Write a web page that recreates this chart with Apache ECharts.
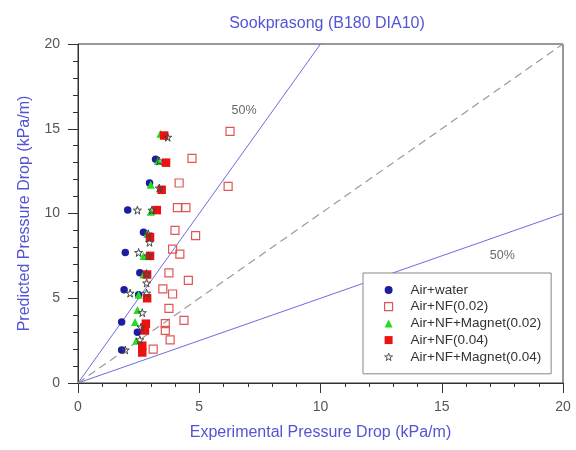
<!DOCTYPE html>
<html><head><meta charset="utf-8">
<script src="https://cdn.jsdelivr.net/npm/echarts@6/dist/echarts.min.js"></script>
<style>html,body{margin:0;padding:0;background:#fff}#c{width:576px;height:450px}</style>
</head><body><div id="c"></div>
<script>
const titleText = 'Sookprasong (B180 DIA10)';
const xName = 'Experimental Pressure Drop (kPa/m)';
const yName = 'Predicted Pressure Drop (kPa/m)';
const seriesNames = ['Air+water', 'Air+NF(0.02)', 'Air+NF+Magnet(0.02)', 'Air+NF(0.04)', 'Air+NF+Magnet(0.04)'];

const airWater = [[3.2,13.2],[2.95,11.8],[2.05,10.2],[2.7,8.9],[1.95,7.7],[2.55,6.5],[1.9,5.5],[2.5,5.2],[1.8,3.6],[2.45,3.0],[1.8,1.95]];
const airNF002 = [[6.27,14.85],[4.7,13.25],[6.19,11.6],[4.17,11.8],[4.1,10.35],[4.45,10.35],[4.0,9.0],[4.85,8.7],[3.9,7.9],[4.2,7.6],[3.75,6.5],[4.55,6.05],[3.5,5.55],[3.9,5.25],[3.75,4.4],[4.37,3.7],[3.6,3.5],[3.6,3.1],[3.8,2.55],[3.1,2.0]];
const airNFMag002 = [[3.4,14.7],[3.3,13.1],[3.0,11.7],[3.0,10.1],[2.85,8.8],[2.7,7.5],[2.7,6.4],[2.5,5.2],[2.45,4.3],[2.35,3.6],[2.4,2.5]];
const airNF004 = [[3.55,14.6],[3.63,13.0],[3.45,11.4],[3.25,10.2],[2.97,8.6],[2.97,7.5],[2.85,6.4],[2.85,5.0],[2.8,3.5],[2.76,3.1],[2.65,2.2],[2.65,1.8]];
const airNFMag004 = [[3.7,14.5],[3.35,13.1],[3.35,11.5],[2.45,10.2],[3.05,10.2],[2.9,8.8],[2.95,8.3],[2.5,7.7],[2.9,7.5],[2.83,6.45],[2.83,5.9],[2.15,5.3],[2.83,5.3],[2.65,4.15],[2.6,3.3],[2.55,2.55],[1.95,1.95]];

const lineUpper = [[0,0],[10,20]];
const lineLower = [[0,0],[20,10]];
const lineEqual = [[0,0],[20,20]];
const bandLabels = [[6.85,16.1],[17.5,7.5]];
const bandText = '50%';

const FONT = '"Liberation Sans", Arial, sans-serif';
const blueText = '#5454d4';
const starPath = 'path://M50,0 L61,35 L98,35 L68,57 L79,91 L50,70 L21,91 L32,57 L2,35 L39,35 Z';

const legendIcons = ['circle', 'rect', 'triangle', 'rect', starPath];
const legendStyles = [
  {color: '#1d1d9e'},
  {color: '#fff', borderColor: '#e05656', borderWidth: 1.2},
  {color: '#22dd22'},
  {color: '#ee1111'},
  {color: '#fff', borderColor: '#555', borderWidth: 1}
];

const chart = echarts.init(document.getElementById('c'));
chart.setOption({
  backgroundColor: '#fff',
  animation: false,
  textStyle: {fontFamily: FONT},
  title: {
    text: titleText, left: 322, top: 11, textAlign: 'center',
    textStyle: {fontFamily: FONT, fontSize: 16, fontWeight: 'normal', color: blueText}
  },
  grid: {left: 78, right: 13, top: 44, bottom: 67, show: true, borderColor: '#333', borderWidth: 1, containLabel: false},
  legend: {
    data: seriesNames.map((n, i) => ({name: n, icon: legendIcons[i], itemStyle: legendStyles[i]})),
    orient: 'vertical', left: 363, top: 273,
    backgroundColor: '#fff', borderColor: '#888', borderWidth: 1,
    padding: [10, 10, 10, 21], itemWidth: 8, itemHeight: 8, itemGap: 2.7,
    textStyle: {fontFamily: FONT, fontSize: 13.5, lineHeight: 14, color: '#333', padding: [0, 0, 0, 13]}
  },
  xAxis: {
    type: 'value', min: 0, max: 20, interval: 5,
    name: xName, nameLocation: 'middle', nameGap: 42,
    nameTextStyle: {fontFamily: FONT, fontSize: 16, color: blueText},
    axisLine: {show: true, lineStyle: {color: '#333'}},
    axisTick: {show: true, length: 10, lineStyle: {color: '#333'}},
    minorTick: {show: true, splitNumber: 5, length: 4, lineStyle: {color: '#333'}},
    splitLine: {show: false},
    axisLabel: {fontFamily: FONT, fontSize: 14, color: '#555', margin: 17}
  },
  yAxis: {
    type: 'value', min: 0, max: 20, interval: 5,
    name: yName, nameLocation: 'middle', nameGap: 45,
    nameTextStyle: {fontFamily: FONT, fontSize: 16, color: blueText},
    axisLine: {show: true, lineStyle: {color: '#333'}},
    axisTick: {show: true, length: 10, lineStyle: {color: '#333'}},
    minorTick: {show: true, splitNumber: 5, length: 5, lineStyle: {color: '#333'}},
    splitLine: {show: false},
    axisLabel: {fontFamily: FONT, fontSize: 14, color: '#555', margin: 18}
  },
  series: [
    {type: 'line', data: lineUpper, symbol: 'none', silent: true, z: 1, lineStyle: {color: '#6c6cde', width: 1}},
    {type: 'line', data: lineLower, symbol: 'none', silent: true, z: 1, lineStyle: {color: '#6c6cde', width: 1}},
    {type: 'line', data: lineEqual, symbol: 'none', silent: true, z: 1, lineStyle: {color: '#9a9a9a', width: 1.2, type: [8, 5]}},
    {type: 'scatter', data: bandLabels, symbol: 'circle', symbolSize: 1, silent: true, z: 1,
      itemStyle: {color: 'rgba(255,255,255,0)'},
      label: {show: true, position: 'inside', formatter: bandText, fontFamily: FONT, fontSize: 12.5, color: '#444'}},
    {name: seriesNames[0], type: 'scatter', data: airWater, symbol: 'circle', symbolSize: 7.5, z: 3,
      itemStyle: {color: '#1d1d9e', opacity: 1}},
    {name: seriesNames[1], type: 'scatter', data: airNF002, symbol: 'rect', symbolSize: 8, z: 3,
      itemStyle: {color: 'rgba(255,255,255,0)', borderColor: '#e05656', borderWidth: 1.2, opacity: 1}},
    {name: seriesNames[2], type: 'scatter', data: airNFMag002, symbol: 'triangle', symbolSize: 8, z: 3,
      itemStyle: {color: '#22dd22', opacity: 1}},
    {name: seriesNames[3], type: 'scatter', data: airNF004, symbol: 'rect', symbolSize: 8.5, z: 3,
      itemStyle: {color: '#ee1111', opacity: 1}},
    {name: seriesNames[4], type: 'scatter', data: airNFMag004, symbol: starPath, symbolSize: 8, z: 3,
      itemStyle: {color: 'rgba(255,255,255,0)', borderColor: '#444', borderWidth: 1, opacity: 1}}
  ]
});
</script>
</body></html>
